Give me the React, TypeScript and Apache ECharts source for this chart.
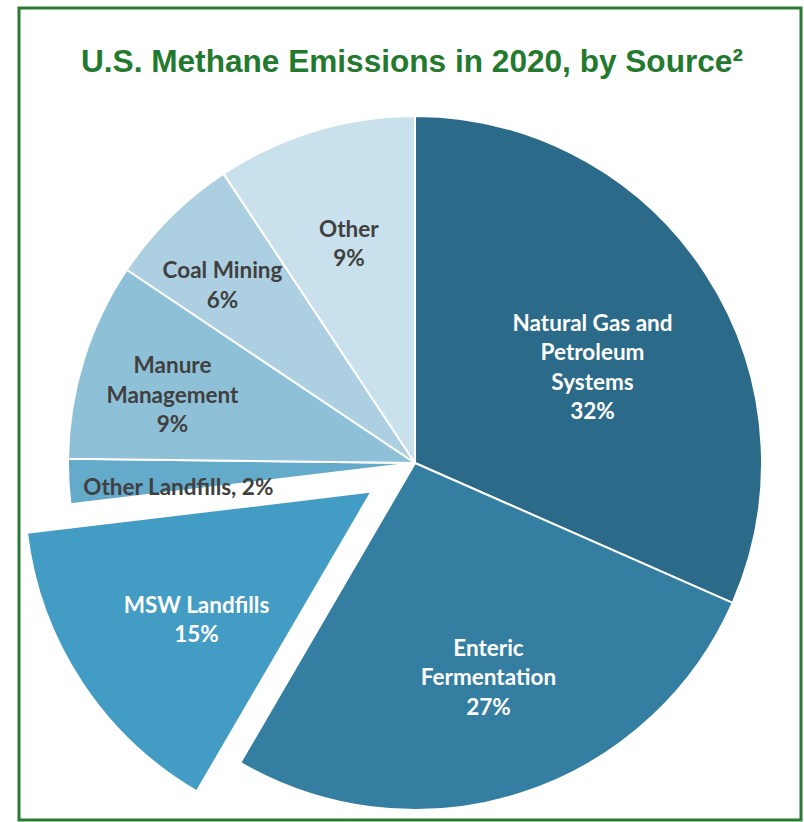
import React, { useEffect, useRef } from "react";
import * as echarts from "echarts";

const categories = [
  "Natural Gas and\nPetroleum\nSystems",
  "Enteric\nFermentation",
  "MSW Landfills",
  "Other Landfills",
  "Manure\nManagement",
  "Coal Mining",
  "Other",
];
const values = [31.6, 26.8, 14.7, 2.1, 9.2, 6.3, 9.3];
const shownPercents = [32, 27, 15, 2, 9, 6, 9];
const inlineLabel = [false, false, false, true, false, false, false];
const exploded = [false, false, true, false, false, false, false];

const colors = ["#2b6a88", "#347ea1", "#439cc4", "#64aacb", "#8ec0d8", "#acd0e2", "#c8e1ec"];
const labelColors = ["#ffffff", "#ffffff", "#ffffff", "#404040", "#404040", "#404040", "#404040"];
const labelDist = [203, 225, 216, 237, 252, 263, 230];
const labelNudge = [
  [5, 16],
  [3, -3],
  [8, 7],
  [3, 11],
  [1, 7],
  [-5, 10],
  [1, 3],
];

const R = 347;

export default function App() {
  const ref = useRef<HTMLDivElement>(null);
  useEffect(() => {
    document.body.style.margin = "0";
    const chart = echarts.init(ref.current!, null, { renderer: "svg" });
    const total = values.reduce((a, b) => a + b, 0);
    let acc = 0;
    const mids = values.map((v) => {
      const m = ((acc + v / 2) / total) * Math.PI * 2;
      acc += v;
      return m;
    });
    chart.setOption({
      animation: false,
      title: {
        text: "U.S. Methane Emissions in 2020, by Source²",
        left: 81,
        top: 45,
        padding: 0,
        textStyle: {
          fontFamily: "Liberation Sans",
          fontWeight: "bold",
          fontSize: 31.6,
          color: "#237a2e",
        },
      },
      graphic: [
        {
          type: "rect",
          shape: { x: 19, y: 8, width: 782, height: 812 },
          style: { fill: "none", stroke: "#2a7a33", lineWidth: 3 },
          silent: true,
        },
      ],
      series: [
        {
          type: "pie",
          center: [415, 463],
          radius: R,
          startAngle: 90,
          clockwise: true,
          selectedMode: "multiple",
          selectedOffset: 52,
          avoidLabelOverlap: false,
          emphasis: { disabled: true },
          itemStyle: { borderColor: "#ffffff", borderWidth: 2 },
          label: {
            show: true,
            position: "inside",
            fontFamily: "Lato",
            fontWeight: "bold",
            fontSize: 22.5,
            lineHeight: 29.5,
            align: "center",
            overflow: "none",
            formatter: (p: any) =>
              inlineLabel[p.dataIndex]
                ? `${categories[p.dataIndex]}, ${shownPercents[p.dataIndex]}%`
                : `${categories[p.dataIndex]}\n${shownPercents[p.dataIndex]}%`,
          },
          labelLine: { show: false },
          labelLayout: (p: any) => {
            const i = p.dataIndex;
            const extra = labelDist[i] - R / 2;
            return {
              dx: extra * Math.sin(mids[i]) + labelNudge[i][0],
              dy: -extra * Math.cos(mids[i]) + labelNudge[i][1],
            };
          },
          data: values.map((v, i) => ({
            value: v,
            name: categories[i],
            selected: exploded[i],
            itemStyle: { color: colors[i] },
            select: { itemStyle: { color: colors[i] }, label: { color: labelColors[i] } },
            label: { color: labelColors[i] },
          })),
        },
      ],
    });
    return () => chart.dispose();
  }, []);
  return <div ref={ref} style={{ width: 804, height: 822 }} />;
}
